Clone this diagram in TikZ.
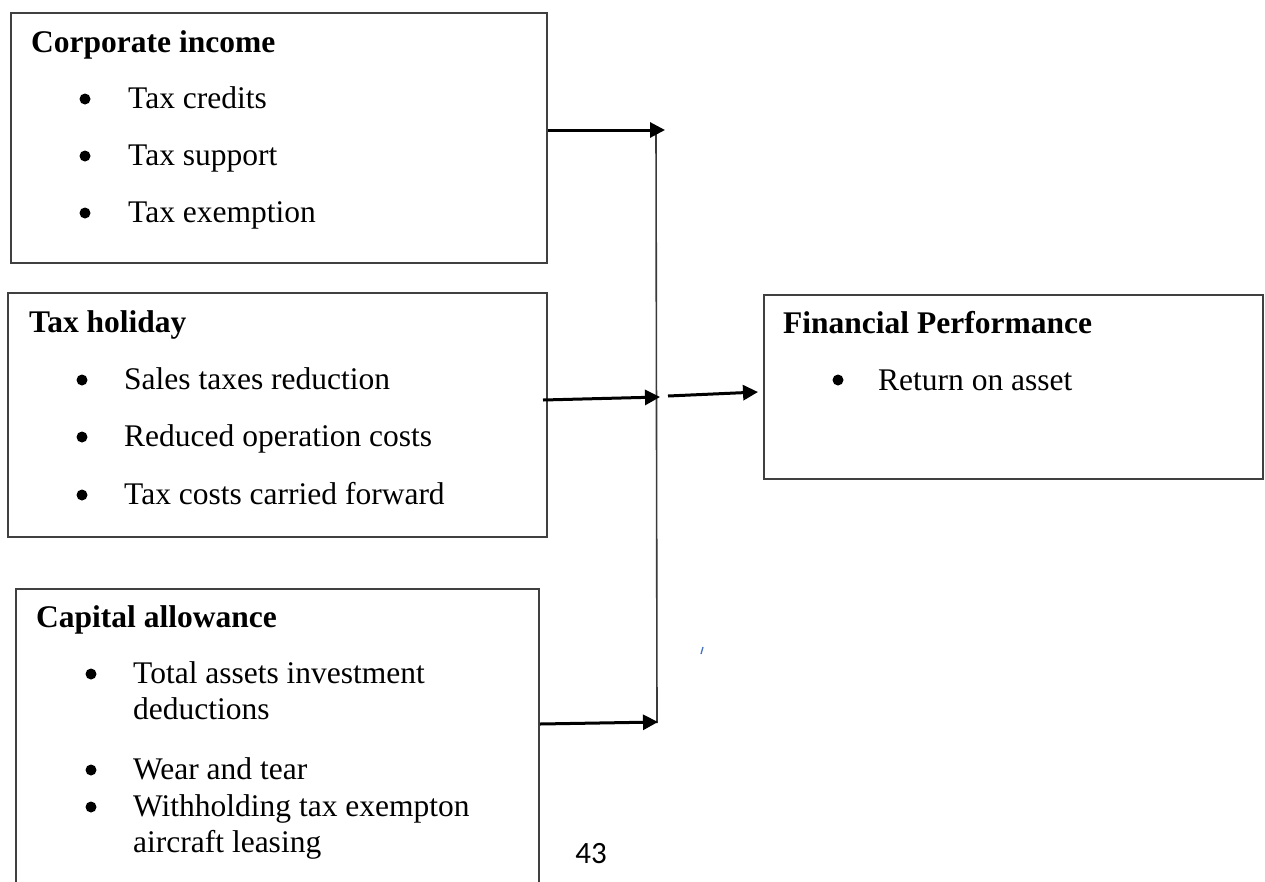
\documentclass[tikz,border=0pt]{standalone}
\usepackage{fontspec}
\setmainfont{Liberation Serif}
\newfontfamily\pagefont{Carlito}
\usetikzlibrary{arrows.meta}
\definecolor{boxgray}{HTML}{404040}
\definecolor{linegray}{HTML}{3A3A3A}
\definecolor{tickblue}{HTML}{4472C4}
\begin{document}
\begin{tikzpicture}[x=1pt,y=-1pt,
  box/.style={draw=boxgray, line width=1.6pt, rectangle, inner sep=0pt, anchor=north west},
  ttl/.style={anchor=base west, inner sep=0pt, font=\fontsize{31.5}{36}\selectfont\bfseries},
  itm/.style={anchor=base west, inner sep=0pt, font=\fontsize{31.5}{36}\selectfont},
  dot/.style={circle, fill=black, inner sep=0pt, minimum size=11pt},
  arr/.style={line width=3pt, -{Triangle[length=15pt,width=15pt]}},
  vline/.style={draw=linegray, line width=1.6pt}]
\useasboundingbox (0,0) rectangle (1265,881);
\clip (0,0) rectangle (1265,881);
\fill[white] (0,0) rectangle (1265,881);

% boxes
\node[box, minimum width=536pt, minimum height=250pt] (corp) at (10,12) {};
\node[box, minimum width=539pt, minimum height=244pt] (hol) at (7,292) {};
\node[box, minimum width=523pt, minimum height=330pt] (cap) at (15,588) {};
\node[box, minimum width=499pt, minimum height=184pt] (fin) at (763,294) {};

% Corporate income
\node[ttl] (corpT) at (31,52) {Corporate income};
\node[dot] (c1d) at (85,99) {};
\node[itm] (c1) at (128,108) {Tax credits};
\node[dot] (c2d) at (85,156) {};
\node[itm] (c2) at (128,165) {Tax support};
\node[dot] (c3d) at (85,213) {};
\node[itm] (c3) at (128,222) {Tax exemption};

% Tax holiday
\node[ttl] (holT) at (29,332) {Tax holiday};
\node[dot] (h1d) at (82,380) {};
\node[itm] (h1) at (124,389) {Sales taxes reduction};
\node[dot] (h2d) at (82,437) {};
\node[itm] (h2) at (124,446) {Reduced operation costs};
\node[dot] (h3d) at (82,495) {};
\node[itm] (h3) at (124,504) {Tax costs carried forward};

% Capital allowance
\node[ttl] (capT) at (36,627) {Capital allowance};
\node[dot] (k1d) at (91,674) {};
\node[itm] (k1) at (133,683) {Total assets investment};
\node[itm] (k1b) at (133,719) {deductions};
\node[dot] (k2d) at (91,770) {};
\node[itm] (k2) at (133,779) {Wear and tear};
\node[dot] (k3d) at (91,807) {};
\node[itm] (k3) at (133,816) {Withholding tax exempton};
\node[itm] (k3b) at (133,852) {aircraft leasing};

% Financial Performance
\node[ttl] (finT) at (783,333) {Financial Performance};
\node[dot] (f1d) at (838,380) {};
\node[itm] (f1) at (878,390) {Return on asset};

% connectors
\coordinate (vtop) at (656,130);
\coordinate (vbot) at (657,723);
\coordinate (a1s) at (548,130);
\coordinate (a1e) at (665,130);
\coordinate (a2s) at (543,400);
\coordinate (a2e) at (660,397);
\coordinate (a3s) at (668,396);
\coordinate (a3e) at (758,392);
\coordinate (a4s) at (540,724);
\coordinate (a4e) at (658,722);

\draw[vline] (vtop) -- (vbot);
\draw[arr] (a1s) -- (a1e);
\draw[arr] (a2s) -- (a2e);
\draw[arr] (a3s) -- (a3e);
\draw[arr] (a4s) -- (a4e);

% stray mark and page number
\coordinate (tk1) at (701,654);
\coordinate (tk2) at (703,647);
\draw[tickblue, line width=1.3pt] (tk1) -- (tk2);
\node[anchor=base, inner sep=0pt, font=\pagefont\fontsize{31}{36}\selectfont] (pg) at (591,863) {43};
\end{tikzpicture}
\end{document}
